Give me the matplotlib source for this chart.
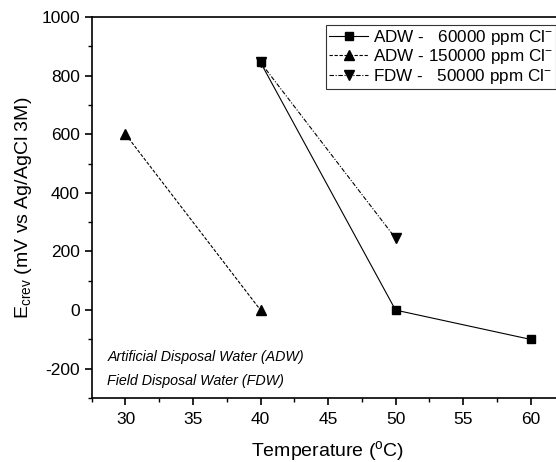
import matplotlib.pyplot as plt
from matplotlib.ticker import MultipleLocator

plt.rcParams['font.family'] = ['Liberation Sans', 'DejaVu Sans']
plt.rcParams['mathtext.fontset'] = 'custom'
plt.rcParams['mathtext.rm'] = 'Liberation Sans'
plt.rcParams['mathtext.it'] = 'Liberation Sans:italic'
plt.rcParams['axes.unicode_minus'] = False

# series
adw60_t = [40, 50, 60]
adw60_e = [845, 0, -100]
adw150_t = [30, 40]
adw150_e = [600, 0]
fdw50_t = [40, 50]
fdw50_e = [845, 245]

labels = [r'ADW -   60000 ppm Cl$^{-}$',
          r'ADW - 150000 ppm Cl$^{-}$',
          r'FDW -   50000 ppm Cl$^{-}$']
notes = ['Artificial Disposal Water (ADW)', 'Field Disposal Water (FDW)']

fig = plt.figure(figsize=(5.56, 4.62), dpi=100)
ax = fig.add_axes([0.165, 0.1385, 0.85, 0.8247])

ax.plot(adw60_t, adw60_e, color='black', lw=0.8, ls='-', marker='s', ms=6, label=labels[0])
ax.plot(adw150_t, adw150_e, color='black', lw=0.8, ls=(0, (3, 1.5)), marker='^', ms=7, label=labels[1])
ax.plot(fdw50_t, fdw50_e, color='black', lw=0.8, ls=(0, (4, 1.5, 1, 1.5)), marker='v', ms=7, label=labels[2])

ax.set_xlim(27.5, 62.5)
ax.set_ylim(-300, 1000)
ax.xaxis.set_major_locator(MultipleLocator(5))
ax.xaxis.set_minor_locator(MultipleLocator(2.5))
ax.yaxis.set_major_locator(MultipleLocator(200))
ax.yaxis.set_minor_locator(MultipleLocator(100))
ax.tick_params(which='major', direction='out', length=5, width=1.2, labelsize=12.5)
ax.tick_params(which='minor', direction='out', length=3, width=1.0)
ax.tick_params(axis='x', pad=5)
for s in ax.spines.values():
    s.set_linewidth(1.2)

ax.set_xlabel(r'Temperature ($\mathregular{^{o}}$C)', fontsize=14, labelpad=9)
ax.set_ylabel(r'E$_{\mathregular{crev}}$ (mV vs Ag/AgCl 3M)', fontsize=14, labelpad=5)

ax.text(0.033, 0.108, notes[0], transform=ax.transAxes, fontsize=10.3, style='italic', va='center')
ax.text(0.033, 0.045, notes[1], transform=ax.transAxes, fontsize=10.3, style='italic', va='center')

leg = ax.legend(loc='upper left', bbox_to_anchor=(0.495, 0.98), fontsize=12.3,
                frameon=True, fancybox=False, edgecolor='black', handlelength=2.3,
                handletextpad=0.25, borderpad=0.2, labelspacing=0.02, borderaxespad=0)
leg.get_frame().set_linewidth(0.8)

fig.savefig('out.png', dpi=100)
